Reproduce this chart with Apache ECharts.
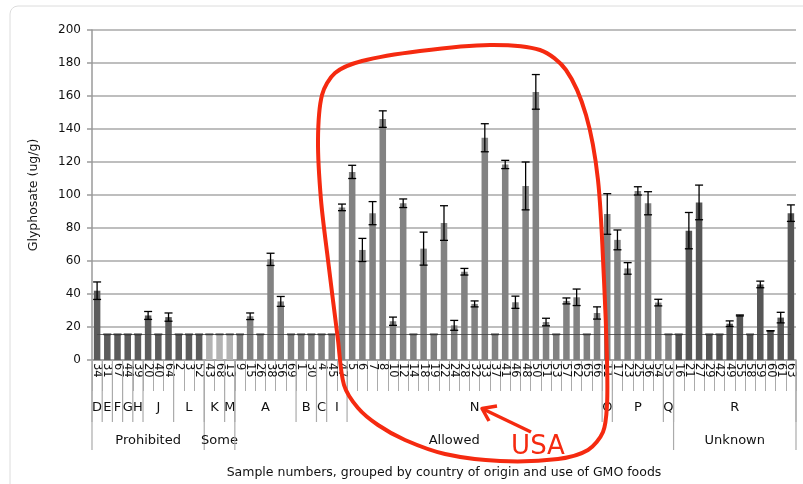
<!DOCTYPE html>
<html><head><meta charset="utf-8">
<script src="https://cdn.jsdelivr.net/npm/echarts@6/dist/echarts.min.js"></script>
<style>html,body{margin:0;padding:0;background:#fff}#chart{width:803px;height:484px}</style>
</head><body><div id="chart"></div>
<script>
// ---- data ----
const samples = ['34','31','67','44','39','20','40','64','2','3','52','43','68','13','9','15','26','38','56','69','1','30','4','45','47','5','6','7','8','10','12','14','18','19','22','24','28','32','33','37','41','46','48','50','51','53','57','62','65','66','11','17','23','25','36','54','35','16','21','27','29','42','49','55','58','59','60','61','63'];
const values = [42,15.5,15.5,15.5,15.5,27,15.5,26,15.5,15.5,15.5,15.5,15.5,15.5,15.5,26.5,15.5,61,35.5,15.5,15.5,15.5,15.5,15.5,92.5,114,66.7,89,146,23.5,95,15.5,67.5,15.5,83,21,53.5,34,134.7,15.5,118.5,35,105.5,162.5,23,15.5,35.8,38,15.5,28.5,88.5,72.8,55.5,102.5,95,34.8,15.5,15.5,78.4,95.5,15.5,15.5,22,27,15.5,45.8,17.7,25.7,89];
const errors = [5.3,0,0,0,0,2.4,0,2.5,0,0,0,0,0,0,0,2,0,3.7,3,0,0,0,0,0,2,4,7,7,5,2.5,2.6,0,10,0,10.5,3,2,1.8,8.5,0,2.5,3.7,14.5,10.5,2.3,0,1.8,5,0,3.7,12.3,6,3.5,2.5,7,2,0,0,11,10.5,0,0,1.7,0.3,0,2,0,3.2,5];
const countryGroups = ['D','E','F','G','H','J','L','K','M','A','B','C','I','N','O','P','Q','R'];
const countrySizes = [1,1,1,1,1,3,3,2,1,6,2,1,2,25,1,5,1,12];
const useGroups = ['Prohibited','Some','Allowed','Unknown'];
const useSizes = [11,3,43,12];
const detectionLimit = [15.5];
const yMin = 0, yMax = 200, yStep = 20;

// ---- styles ----
const FONT = 'DejaVu Sans';
const useColors = ['#5c5c5c','#b3b3b3','#828282','#565656'];
const lineGray = '#ababab';

function spans(sizes) {
  const out = []; let s = 0;
  sizes.forEach(n => { out.push([s, s + n - 1]); s += n; });
  return out;
}
const countrySpans = spans(countrySizes);
const useSpans = spans(useSizes);
const barColors = [];
useSpans.forEach((sp, g) => { for (let i = sp[0]; i <= sp[1]; i++) barColors[i] = useColors[g]; });

const barData = values.map((v, i) => ({ value: v, itemStyle: { color: barColors[i] } }));
const errData = values.map((v, i) => [i, v - errors[i], v + errors[i]]);

function renderErr(params, api) {
  const x = api.value(0);
  const top = api.coord([x, api.value(2)]);
  const bot = api.coord([x, api.value(1)]);
  const h = 4;
  const st = { stroke: '#000', lineWidth: 1.3 };
  return { type: 'group', children: [
    { type: 'line', shape: { x1: top[0], y1: top[1], x2: bot[0], y2: bot[1] }, style: st },
    { type: 'line', shape: { x1: top[0] - h, y1: top[1], x2: top[0] + h, y2: top[1] }, style: st },
    { type: 'line', shape: { x1: bot[0] - h, y1: bot[1], x2: bot[0] + h, y2: bot[1] }, style: st }
  ]};
}

function makeGroupRenderer(names, lineLen, textDy, fontSize) {
  return function (params, api) {
    const bw = api.size([1, 0])[0];
    const p0 = api.coord([api.value(0), 0]);
    const p1 = api.coord([api.value(1), 0]);
    const xl = p0[0] - bw / 2, xr = p1[0] + bw / 2, y0 = p0[1];
    const st = { stroke: lineGray, lineWidth: 1.2 };
    const ch = [
      { type: 'line', shape: { x1: xl, y1: y0, x2: xl, y2: y0 + lineLen }, style: st },
      { type: 'text', x: (xl + xr) / 2, y: y0 + textDy,
        style: { text: names[params.dataIndex], fill: '#111', fontSize: fontSize, fontFamily: FONT, align: 'center', verticalAlign: 'middle' } }
    ];
    if (params.dataIndex === names.length - 1) {
      ch.push({ type: 'line', shape: { x1: xr, y1: y0, x2: xr, y2: y0 + lineLen }, style: st });
    }
    return { type: 'group', children: ch };
  };
}

const red = '#f52a10';
const loop = [[338,340],[344,385],[358,408],[378,425],[405,440],[445,454],[500,461],[558,459],[588,450],[603,432],[607,405],[607,360],[604,280],[598,180],[586,115],[566,70],[540,50],[490,45],[420,51],[362,61],[335,73],[322,95],[318,140],[321,200],[328,260]];

const chart = echarts.init(document.getElementById('chart'), null, { renderer: 'canvas' });
chart.setOption({
  animation: false,
  textStyle: { fontFamily: FONT },
  grid: { left: 92, right: 7, top: 30, bottom: 122, containLabel: false },
  xAxis: {
    type: 'category', data: samples,
    axisLine: { show: true, lineStyle: { color: '#9a9a9a', width: 1.5 } },
    axisTick: { show: true, interval: 0, length: 31, lineStyle: { color: lineGray, width: 1 } },
    axisLabel: { interval: 0, rotate: -90, fontSize: 11.5, color: '#111', margin: 3, fontFamily: FONT },
    name: 'Sample numbers, grouped by country of origin and use of GMO foods',
    nameLocation: 'middle', nameGap: 106,
    nameTextStyle: { fontSize: 12.5, color: '#111', fontFamily: FONT }
  },
  yAxis: {
    type: 'value', min: yMin, max: yMax, interval: yStep,
    axisLine: { show: true, lineStyle: { color: '#9a9a9a', width: 1.5 } },
    axisTick: { show: true, length: 5, lineStyle: { color: '#9a9a9a', width: 1.5 } },
    axisLabel: { fontSize: 12, color: '#111', margin: 11, fontFamily: FONT },
    splitLine: { show: true, lineStyle: { color: '#a8a8a8', width: 1.5 } },
    name: 'Glyphosate (ug/g)', nameLocation: 'middle', nameGap: 52,
    nameTextStyle: { fontSize: 12.5, color: '#111', fontFamily: FONT }
  },
  series: [
    {
      type: 'bar', data: barData, barCategoryGap: '36%', z: 2,
      markLine: {
        silent: true, symbol: 'none', label: { show: false },
        lineStyle: { color: '#444', width: 0.8, type: 'solid' },
        data: [[{ coord: [0, detectionLimit[0]] }, { coord: [samples.length - 1, detectionLimit[0]] }]]
      }
    },
    { type: 'custom', data: errData, renderItem: renderErr, z: 3, silent: true, encode: { x: 0, y: [1, 2] } },
    { type: 'custom', data: countrySpans, renderItem: makeGroupRenderer(countryGroups, 62, 48, 13), z: 3, silent: true, clip: false },
    { type: 'custom', data: useSpans, renderItem: makeGroupRenderer(useGroups, 90, 81, 13), z: 3, silent: true, clip: false }
  ],
  graphic: [
    { type: 'rect', shape: { x: 10, y: 6, width: 840, height: 540, r: 8 }, style: { fill: 'none', stroke: '#dcdcdc', lineWidth: 1 }, silent: true, z: 0 },
    { type: 'polygon', shape: { points: loop, smooth: 0.3 }, style: { fill: 'none', stroke: red, lineWidth: 4 }, z: 100 },
    { type: 'polyline', shape: { points: [[531,432],[483,409]] }, style: { stroke: red, lineWidth: 3.5, fill: 'none' }, z: 100 },
    { type: 'polyline', shape: { points: [[497,406],[482,408.5],[489,421]] }, style: { stroke: red, lineWidth: 3.5, fill: 'none', lineJoin: 'round' }, z: 100 },
    { type: 'text', x: 538, y: 447, style: { text: 'USA', fill: red, fontSize: 26, fontFamily: FONT, align: 'center', verticalAlign: 'middle' }, z: 100 }
  ]
});
</script></body></html>
